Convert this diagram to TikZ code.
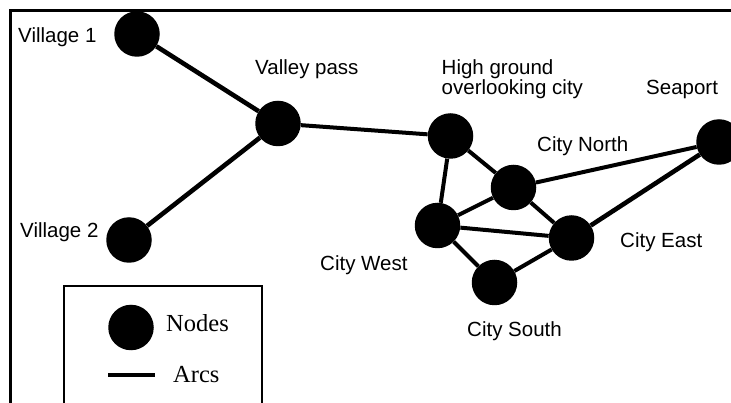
\documentclass[tikz,border=0pt]{standalone}
\usepackage{fontspec}
\setmainfont{Liberation Sans}
\newfontfamily\legendfont{Liberation Serif}
\begin{document}
\begin{tikzpicture}[x=1pt,y=-1pt,
  place/.style={circle, fill=black, minimum size=45.5pt, inner sep=0pt},
  arcline/.style={line width=4pt},
  heavyarc/.style={line width=4.6pt},
  lbl/.style={anchor=base west, inner sep=0pt, font=\fontsize{20.5}{20}\selectfont},
  leglbl/.style={anchor=base west, inner sep=0pt, font=\legendfont\fontsize{24.5}{26}\selectfont}]
\useasboundingbox (0,0) rectangle (731,403);
\clip (0,0) rectangle (731,403);

% outer frame (top and left edges)
\coordinate (frameBL) at (10.3,403);
\coordinate (frameTL) at (10.3,10.3);
\coordinate (frameTR) at (731,10.3);
\draw[line width=2.5pt] (frameBL) -- (frameTL) -- (frameTR);

% places
\node[place] (v1)  at (137,34) {};
\node[place] (v2)  at (129,240) {};
\node[place] (vp)  at (278,123.5) {};
\node[place] (hg)  at (450.5,136) {};
\node[place] (cn)  at (513.5,187.5) {};
\node[place] (cw)  at (437.5,225.5) {};
\node[place] (ce)  at (571.5,238) {};
\node[place] (cs)  at (494.5,282.5) {};
\node[place] (sea) at (719,142) {};

% arcs
\draw[heavyarc] (v1) -- (vp);
\draw[heavyarc] (v2) -- (vp);
\draw[arcline] (vp) -- (hg);
\draw[arcline] (hg) -- (cn);
\draw[arcline] (hg) -- (cw);
\draw[arcline] (cn) -- (cw);
\draw[arcline] (cn) -- (ce);
\draw[arcline] (cn) -- (sea);
\draw[arcline] (cw) -- (ce);
\draw[arcline] (cw) -- (cs);
\draw[arcline] (cs) -- (ce);
\draw[heavyarc] (ce) -- (sea);

% labels
\node[lbl] (lv1) at (18,43) {Village 1};
\node[lbl] (lv2) at (20,237.5) {Village 2};
\node[lbl] (lvp) at (255,74.5) {Valley pass};
\node[lbl] (lhg1) at (441.5,75) {High ground};
\node[lbl] (lhg2) at (441.5,94.5) {overlooking city};
\node[lbl] (lsea) at (646,95) {Seaport};
\node[lbl] (lcn) at (537,152) {City North};
\node[lbl] (lcw) at (320,271) {City West};
\node[lbl] (lce) at (620,247.5) {City East};
\node[lbl] (lcs) at (467,336.5) {City South};

% legend
\coordinate (legBL) at (64,403);
\coordinate (legTL) at (64,286);
\coordinate (legTR) at (262,286);
\coordinate (legBR) at (262,403);
\draw[line width=1.2pt] (legBL) -- (legTL) -- (legTR) -- (legBR);
\node[place] (legnode) at (131,327.5) {};
\node[leglbl] (legnodes) at (166,332) {Nodes};
\coordinate (legarcA) at (108,375);
\coordinate (legarcB) at (155,375);
\draw[arcline] (legarcA) -- (legarcB);
\node[leglbl] (legarcs) at (173,382) {Arcs};
\end{tikzpicture}
\end{document}
